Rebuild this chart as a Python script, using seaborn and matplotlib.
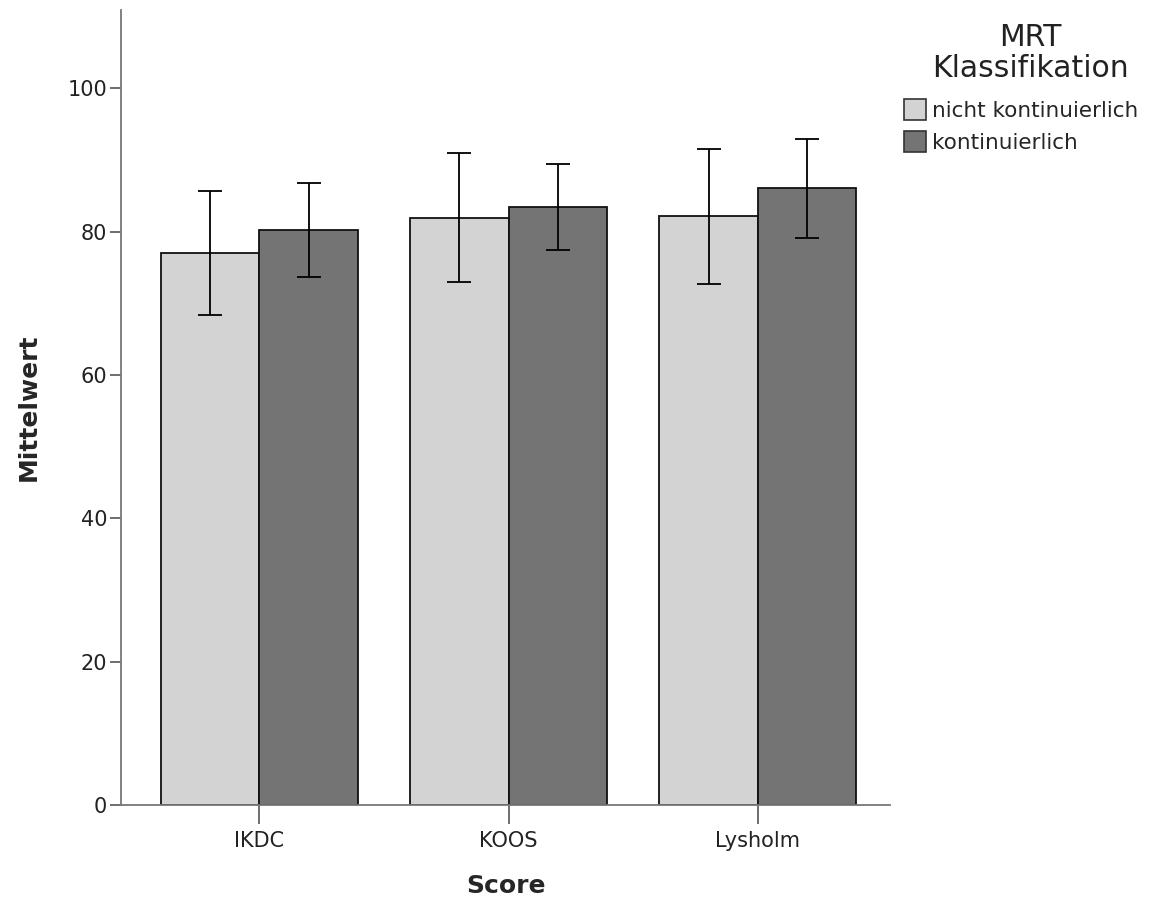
import matplotlib
matplotlib.use("Agg")
import matplotlib.pyplot as plt
import seaborn as sns
import pandas as pd
import numpy as np

# ---- data ----
scores = ["IKDC", "KOOS", "Lysholm"]
groups = ["nicht kontinuierlich", "kontinuierlich"]
mean_nicht = [77.0, 81.9, 82.1]
mean_kont = [80.2, 83.4, 86.0]
err_nicht = [8.6, 9.0, 9.4]
err_kont = [6.6, 6.0, 6.9]
legend_title = "MRT\nKlassifikation"

df = pd.DataFrame({
    "Score": scores * 2,
    "Gruppe": [groups[0]] * 3 + [groups[1]] * 3,
    "Mittelwert": mean_nicht + mean_kont,
})
errs = {groups[0]: err_nicht, groups[1]: err_kont}

sns.set_style("white")
plt.rcParams['font.family'] = ['DejaVu Sans']

fig = plt.figure(figsize=(11.76, 8.97), dpi=100)
ax = fig.add_axes([121/1176, 1 - 805/897, (890 - 121)/1176, (805 - 10)/897])

palette = {groups[0]: "#d3d3d3", groups[1]: "#747474"}
sns.barplot(data=df, x="Score", y="Mittelwert", hue="Gruppe", order=scores,
            hue_order=groups, palette=palette, edgecolor="#111111", linewidth=1.3,
            width=0.79, errorbar=None, ax=ax, legend=True)

for cont, g in zip(ax.containers, groups):
    xs = [b.get_x() + b.get_width() / 2 for b in cont]
    ys = [b.get_height() for b in cont]
    ax.errorbar(xs, ys, yerr=errs[g], fmt="none", ecolor="black",
                elinewidth=1.3, capsize=8.6, capthick=1.3, zorder=5)

ax.set_ylim(0, 110.9)
ax.set_xlim(-0.555, 2.53)
ax.set_yticks([0, 20, 40, 60, 80, 100])
ax.tick_params(axis="both", labelsize=15, colors="#222222")
ax.tick_params(axis="y", length=8, width=1.2, color="#555555", left=True, pad=2)
ax.tick_params(axis="x", length=14, width=1.2, color="#555555", bottom=True, pad=5)
ax.set_ylabel("Mittelwert", fontsize=18, fontweight="bold", labelpad=19)
ax.set_xlabel("Score", fontsize=18, fontweight="bold", labelpad=16)

for s in ["top", "right"]:
    ax.spines[s].set_visible(False)
for s in ["left", "bottom"]:
    ax.spines[s].set_color("#777777")
    ax.spines[s].set_linewidth(1.3)

leg = ax.get_legend()
handles = leg.legend_handles
leg.remove()
lg = fig.legend(handles, groups, loc="upper left",
                bbox_to_anchor=(889/1176, 1 - 84/897), frameon=False,
                fontsize=15.5, handlelength=1.0, handleheight=1.1,
                handletextpad=0.3, labelspacing=0.5, borderpad=0.2)
for h in lg.legend_handles:
    h.set_edgecolor("#333333")
    h.set_linewidth(1.2)

fig.text(1030/1176, 1 - 53/897, legend_title, ha="center", va="center",
         multialignment="center", fontsize=21.5, linespacing=1.05, color="#222222")

fig.savefig("out.png", dpi=100)
